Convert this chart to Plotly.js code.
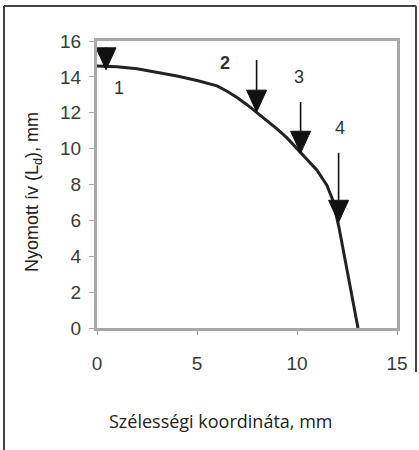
<!DOCTYPE html>
<html>
<head>
<meta charset="utf-8">
<script src="https://cdn.plot.ly/plotly-3.0.1.min.js"></script>
<style>html,body{margin:0;padding:0;background:#fff;}#chart{width:419px;height:450px;}</style>
</head>
<body>
<div id="chart"></div>
<script>
// Curve data (Szélességi koordináta, mm vs Nyomott ív, mm)
var curveX = [0, 1, 2, 3, 4, 5, 6, 6.5, 7, 7.5, 8, 8.5, 9, 9.5, 10, 10.5, 11, 11.5, 11.8, 12.1, 13.05];
var curveY = [14.6, 14.57, 14.45, 14.25, 14.05, 13.8, 13.5, 13.2, 12.85, 12.45, 12.0, 11.6, 11.1, 10.6, 10.0, 9.45, 8.8, 7.95, 7.1, 5.6, 0];

// Arrows: x position, shaft start (top) and tip (bottom) in data units
var arrowX = [0.45, 7.98, 10.18, 12.08];
var arrowTop = [15.65, 14.94, 12.6, 9.77];
var arrowTip = [14.4, 12.04, 9.75, 5.9];

// Arrow labels
var labelText = ['1', '<b>2</b>', '3', '4'];
var labelX = [1.1, 6.4, 10.1, 12.15];
var labelY = [13.4, 14.75, 14.0, 11.15];

var xTicks = [0, 5, 10, 15];
var yTicks = [0, 2, 4, 6, 8, 10, 12, 14, 16];

var headH = 1.22, headHalfW = 0.5;

var traces = [{
  x: curveX, y: curveY, type: 'scatter', mode: 'lines',
  line: {color: '#222', width: 3, shape: 'linear'},
  hoverinfo: 'skip', showlegend: false, cliponaxis: false
}];

for (var i = 0; i < arrowX.length; i++) {
  var headTop = arrowTip[i] + headH;
  if (arrowTop[i] > headTop + 0.01) {
    traces.push({
      x: [arrowX[i], arrowX[i]], y: [arrowTop[i], headTop],
      type: 'scatter', mode: 'lines', line: {color: '#111', width: 1.6},
      showlegend: false, hoverinfo: 'skip'
    });
  }
  traces.push({
    x: [arrowX[i] - headHalfW, arrowX[i] + headHalfW, arrowX[i], arrowX[i] - headHalfW],
    y: [headTop, headTop, arrowTip[i], headTop],
    type: 'scatter', mode: 'lines', fill: 'toself', fillcolor: '#111',
    line: {color: '#111', width: 1}, showlegend: false, hoverinfo: 'skip', cliponaxis: false
  });
}

var W = 419, H = 450, mL = 97, mR = 22, mT = 41, mB = 122;
var pw = W - mL - mR, ph = H - mT - mB;
function px2x(p) { return (p - mL) / pw; }
function py2y(p) { return (H - mB - p) / ph; }

var annotations = [];
for (var j = 0; j < labelText.length; j++) {
  annotations.push({
    x: labelX[j], y: labelY[j], xref: 'x', yref: 'y', text: labelText[j],
    xanchor: 'center', yanchor: 'middle',
    showarrow: false, font: {family: 'Liberation Sans, Arial, sans-serif', size: 18, color: '#333'}
  });
}
annotations.push({
  x: px2x(220), y: py2y(421), xref: 'paper', yref: 'paper', text: 'Szélességi koordináta, mm',
  xanchor: 'center', yanchor: 'middle',
  showarrow: false, font: {family: 'Open Sans, sans-serif', size: 18, color: '#222'}
});
annotations.push({
  x: px2x(33), y: py2y(192), xref: 'paper', yref: 'paper', text: 'Nyomott ív (L<sub>d</sub>), mm', textangle: -90,
  xanchor: 'center', yanchor: 'middle',
  showarrow: false, font: {family: 'Liberation Sans, Arial, sans-serif', size: 18, color: '#222'}
});

var shapes = [
  {type: 'line', xref: 'paper', yref: 'paper', x0: px2x(4), x1: px2x(4), y0: py2y(6), y1: py2y(450), line: {color: '#444', width: 2}},
  {type: 'line', xref: 'paper', yref: 'paper', x0: px2x(4), x1: px2x(416), y0: py2y(6), y1: py2y(6), line: {color: '#444', width: 2}},
  {type: 'line', xref: 'paper', yref: 'paper', x0: px2x(416), x1: px2x(416), y0: py2y(6), y1: py2y(372), line: {color: '#444', width: 2}}
];

var tickFont = {family: 'Liberation Sans, Arial, sans-serif', size: 19, color: '#3a3a3a'};

var layout = {
  width: W, height: H,
  margin: {l: mL, r: mR, t: mT, b: mB, pad: 0},
  paper_bgcolor: '#fff', plot_bgcolor: '#fff',
  showlegend: false,
  xaxis: {
    range: [0, 15], tickvals: xTicks, ticktext: xTicks.map(String),
    showgrid: false, zeroline: false, showline: true, mirror: true,
    linecolor: '#a8a8a8', linewidth: 3, ticks: 'outside', ticklen: 4, tickcolor: '#aaa', tickwidth: 1,
    tickfont: tickFont, ticklabelstandoff: 12
  },
  yaxis: {
    range: [0, 16], tickvals: yTicks, ticktext: yTicks.map(String),
    showgrid: false, zeroline: false, showline: true, mirror: true,
    linecolor: '#a8a8a8', linewidth: 3, ticks: 'outside', ticklen: 5, tickcolor: '#aaa', tickwidth: 1,
    tickfont: tickFont, ticklabelstandoff: 4
  },
  annotations: annotations,
  shapes: shapes
};

Plotly.newPlot('chart', traces, layout, {staticPlot: true, displayModeBar: false});
</script>
</body>
</html>
